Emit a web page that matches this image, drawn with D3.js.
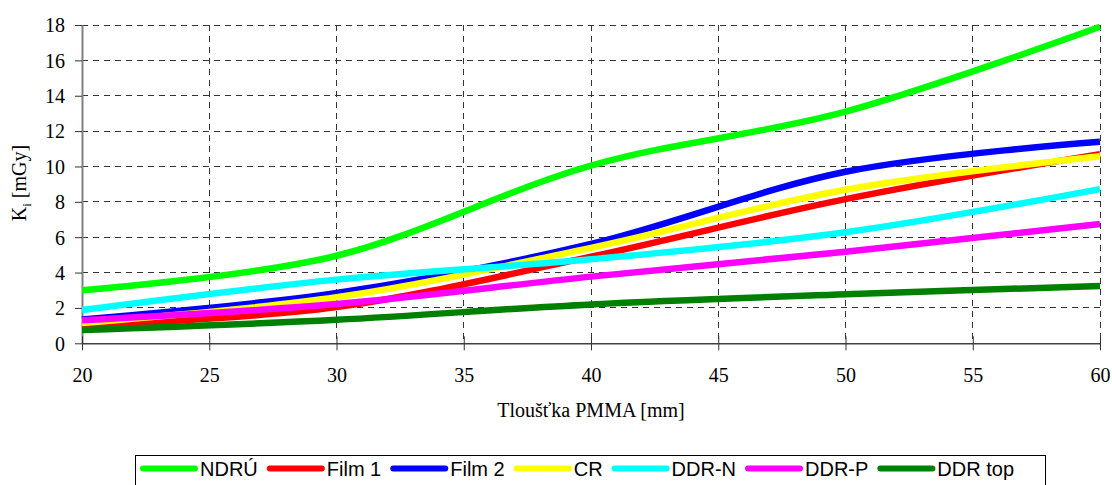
<!DOCTYPE html>
<html>
<head>
<meta charset="utf-8">
<script src="https://cdn.jsdelivr.net/npm/d3@7"></script>
<style>
  html, body { margin: 0; padding: 0; background: #fff; }
  svg { display: block; }
</style>
</head>
<body>
<svg id="chart" width="1112" height="485"></svg>
<script>
// ---- data ----
const thickness = [20, 30, 40, 50, 60];
const seriesNames = ["NDRÚ", "Film 1", "Film 2", "CR", "DDR-N", "DDR-P", "DDR top"];
const ndru   = [3.0, 4.95, 10.05, 13.1, 17.9];
const film1  = [1.0, 2.05, 4.9, 8.15, 10.7];
const film2  = [1.35, 2.85, 5.62, 9.7, 11.4];
const cr     = [1.15, 2.6, 5.4, 8.68, 10.58];
const ddrN   = [1.88, 3.6, 4.75, 6.28, 8.72];
const ddrP   = [1.3, 2.22, 3.77, 5.18, 6.75];
const ddrTop = [0.75, 1.33, 2.2, 2.77, 3.24];
const xTicks = [20, 25, 30, 35, 40, 45, 50, 55, 60];
const yTicks = [0, 2, 4, 6, 8, 10, 12, 14, 16, 18];
const colors = ["#00ff00", "#ff0000", "#0000ff", "#ffff00", "#00ffff", "#ff00ff", "#008000"];

(function () {
const seriesValues = [ndru, film1, film2, cr, ddrN, ddrP, ddrTop];
const series = seriesNames.map((n, i) => ({
  name: n, color: colors[i],
  pts: thickness.map((t, j) => [t, seriesValues[i][j]])
}));

const svg = d3.select("#chart");
const pLeft = 82, pRight = 1100, pTop = 25, pBottom = 343.3;
const x = d3.scaleLinear().domain([20, 60]).range([pLeft, pRight]);
const y = d3.scaleLinear().domain([0, 18]).range([pBottom, pTop]);

const serif = "'Liberation Serif', 'Times New Roman', serif";
const sans = "'Liberation Sans', Arial, sans-serif";

// grid
const grid = svg.append("g");
grid.selectAll("line.h").data(yTicks.filter(d => d > 0)).join("line")
  .attr("x1", pLeft).attr("x2", pRight)
  .attr("y1", d => y(d)).attr("y2", d => y(d))
  .attr("stroke", "#333").attr("stroke-width", 1).attr("stroke-dasharray", "6,5")
  .attr("shape-rendering", "crispEdges");
grid.selectAll("line.v").data(xTicks.filter(d => d > 20)).join("line")
  .attr("x1", d => x(d)).attr("x2", d => x(d))
  .attr("y1", pTop).attr("y2", pBottom)
  .attr("stroke", "#333").attr("stroke-width", 1).attr("stroke-dasharray", "6,5")
  .attr("shape-rendering", "crispEdges");

// axes
const yAxis = svg.append("g").attr("transform", `translate(${pLeft},0)`)
  .call(d3.axisLeft(y).tickValues(yTicks).tickSize(7).tickSizeOuter(0).tickPadding(10));
yAxis.select(".domain").attr("stroke", "#808080").attr("stroke-width", 2);
yAxis.selectAll(".tick line").attr("stroke", "#333");
yAxis.selectAll(".tick text").attr("font-family", serif).attr("font-size", 20)
  .attr("fill", "#000").attr("dy", "0.34em");

const xAxis = svg.append("g").attr("transform", `translate(0,${pBottom})`)
  .call(d3.axisBottom(x).tickValues(xTicks).tickSize(7).tickSizeOuter(0).tickPadding(18));
xAxis.select(".domain").attr("stroke", "#404040").attr("stroke-width", 1.5);
xAxis.selectAll(".tick line").attr("y1", -7).attr("y2", 7).attr("stroke", "#333");
xAxis.selectAll(".tick text").attr("font-family", serif).attr("font-size", 20)
  .attr("fill", "#000");

// lines
const line = d3.line().x(d => x(d[0])).y(d => y(d[1])).curve(d3.curveCardinal.tension(0));
svg.append("g").selectAll("path").data(series).join("path")
  .attr("d", d => line(d.pts))
  .attr("fill", "none").attr("stroke", d => d.color)
  .attr("stroke-width", 6.5).attr("stroke-linejoin", "round");

// axis titles
svg.append("text").attr("x", 591).attr("y", 417).attr("text-anchor", "middle")
  .attr("font-family", serif).attr("font-size", 20).text("Tloušťka PMMA [mm]");
const yt = svg.append("text").attr("transform", "translate(26,183) rotate(-90)")
  .attr("text-anchor", "middle").attr("font-family", serif).attr("font-size", 20);
yt.append("tspan").text("K");
yt.append("tspan").attr("font-size", 13).attr("dy", 5).text("i");
yt.append("tspan").attr("dy", -5).text(" [mGy]");

// legend
const lg = svg.append("g");
lg.append("rect").attr("x", 135.5).attr("y", 455.5).attr("width", 910).attr("height", 40)
  .attr("fill", "#fff").attr("stroke", "#000").attr("stroke-width", 1);
let cx = 140;
series.forEach(s => {
  lg.append("line").attr("x1", cx + 3).attr("x2", cx + 55).attr("y1", 468.5).attr("y2", 468.5)
    .attr("stroke", s.color).attr("stroke-width", 6).attr("stroke-linecap", "round");
  const t = lg.append("text").attr("x", cx + 60).attr("y", 476)
    .attr("font-family", sans).attr("font-size", 20).attr("fill", "#000").text(s.name);
  cx = cx + 60 + t.node().getComputedTextLength() + 9;
});
})();
</script>
</body>
</html>
